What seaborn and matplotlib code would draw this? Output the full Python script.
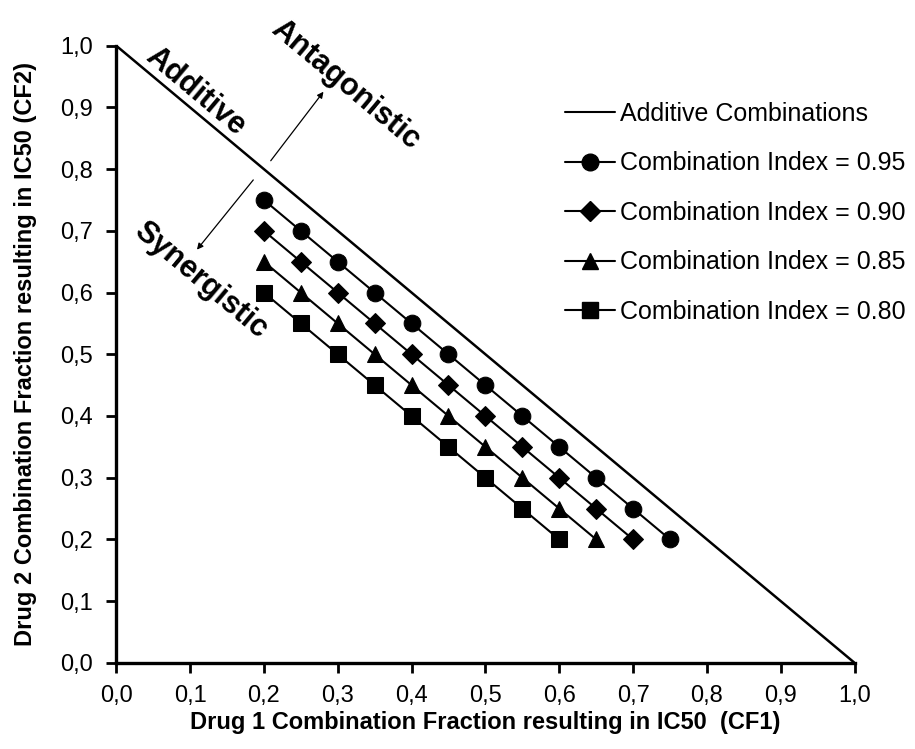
import numpy as np
import pandas as pd
import seaborn as sns
import matplotlib
matplotlib.use("Agg")
import matplotlib.pyplot as plt
from matplotlib.lines import Line2D

# additive line
add_x = [0.0, 1.0]
add_y = [1.0, 0.0]

# combination index series
ci95_x = [0.20, 0.25, 0.30, 0.35, 0.40, 0.45, 0.50, 0.55, 0.60, 0.65, 0.70, 0.75]
ci95_y = [0.75, 0.70, 0.65, 0.60, 0.55, 0.50, 0.45, 0.40, 0.35, 0.30, 0.25, 0.20]
ci90_x = [0.20, 0.25, 0.30, 0.35, 0.40, 0.45, 0.50, 0.55, 0.60, 0.65, 0.70]
ci90_y = [0.70, 0.65, 0.60, 0.55, 0.50, 0.45, 0.40, 0.35, 0.30, 0.25, 0.20]
ci85_x = [0.20, 0.25, 0.30, 0.35, 0.40, 0.45, 0.50, 0.55, 0.60, 0.65]
ci85_y = [0.65, 0.60, 0.55, 0.50, 0.45, 0.40, 0.35, 0.30, 0.25, 0.20]
ci80_x = [0.20, 0.25, 0.30, 0.35, 0.40, 0.45, 0.50, 0.55, 0.60]
ci80_y = [0.60, 0.55, 0.50, 0.45, 0.40, 0.35, 0.30, 0.25, 0.20]

labels = ["Combination Index = 0.95", "Combination Index = 0.90",
          "Combination Index = 0.85", "Combination Index = 0.80"]
tick_vals = [0.0, 0.1, 0.2, 0.3, 0.4, 0.5, 0.6, 0.7, 0.8, 0.9, 1.0]
tick_labels = ["0,0", "0,1", "0,2", "0,3", "0,4", "0,5", "0,6", "0,7", "0,8", "0,9", "1,0"]

sns.set_style("ticks")
plt.rcParams["font.family"] = ["Liberation Sans", "DejaVu Sans"]
# seaborn greys everything, the original is pure black
for key in ["text.color", "axes.labelcolor", "xtick.color", "ytick.color", "axes.edgecolor"]:
    plt.rcParams[key] = "black"

series = [(ci95_x, ci95_y), (ci90_x, ci90_y), (ci85_x, ci85_y), (ci80_x, ci80_y)]
df = pd.concat([pd.DataFrame({"x": sx, "y": sy, "ci": lab})
                for (sx, sy), lab in zip(series, labels)], ignore_index=True)

fig = plt.figure(figsize=(9.15, 7.49), dpi=100)
ax = fig.add_axes([0.127, 0.115, 0.807, 0.824])

sns.lineplot(x=add_x, y=add_y, color="black", lw=1.8, ax=ax)

marker_map = dict(zip(labels, ["o", "D", "^", "s"]))
size_map = {"o": 12, "D": 10, "^": 11, "s": 11}
for lab in labels:
    sub = df[df["ci"] == lab]
    m = marker_map[lab]
    sns.lineplot(data=sub, x="x", y="y", color="black", lw=1.5, marker=m,
                 markersize=size_map[m], markeredgecolor="black",
                 sort=False, ax=ax)

ax.set_xlim(0, 1)
ax.set_ylim(0, 1)
ax.set_xticks(tick_vals)
ax.set_xticklabels(tick_labels)
ax.set_yticks(tick_vals)
ax.set_yticklabels(tick_labels)
ax.tick_params(labelsize=17, width=2, length=7, direction="out", color="black",
               labelcolor="black")
ax.tick_params(axis="x", pad=9)
ax.tick_params(axis="y", pad=10)
for s in ["left", "bottom"]:
    ax.spines[s].set_linewidth(2.4)
    ax.spines[s].set_color("black")
sns.despine(ax=ax)

ax.set_xlabel("Drug 1 Combination Fraction resulting in IC50  (CF1)",
              fontsize=17, fontweight="bold", labelpad=3)
ax.set_ylabel("Drug 2 Combination Fraction resulting in IC50 (CF2)",
              fontsize=17, fontweight="bold", labelpad=16)

# region labels
ax.text(0.107, 0.925, "Additive", rotation=-40, fontsize=22, fontweight="bold",
        ha="center", va="center", rotation_mode="anchor")
ax.text(0.31, 0.937, "Antagonistic", rotation=-40, fontsize=22, fontweight="bold",
        ha="center", va="center", rotation_mode="anchor")
ax.text(0.115, 0.62, "Synergistic", rotation=-40, fontsize=22, fontweight="bold",
        ha="center", va="center", rotation_mode="anchor")
ax.annotate("", xy=(0.283, 0.929), xytext=(0.207, 0.810),
            arrowprops=dict(arrowstyle="-|>", color="black", lw=0.9, mutation_scale=9))
ax.annotate("", xy=(0.107, 0.666), xytext=(0.188, 0.786),
            arrowprops=dict(arrowstyle="-|>", color="black", lw=0.9, mutation_scale=9))

handles = [Line2D([], [], color="black", lw=1.5)]
for lab in labels:
    m = marker_map[lab]
    handles.append(Line2D([], [], color="black", lw=1.5, marker=m,
                          markersize=size_map[m]))
ax.legend(handles, ["Additive Combinations"] + labels, loc="upper left",
          bbox_to_anchor=(0.594, 0.925), frameon=False, fontsize=18,
          handlelength=2.0, handletextpad=0.2, labelspacing=1.02,
          borderaxespad=0, labelcolor="black")

fig.savefig("out.png", dpi=100)
